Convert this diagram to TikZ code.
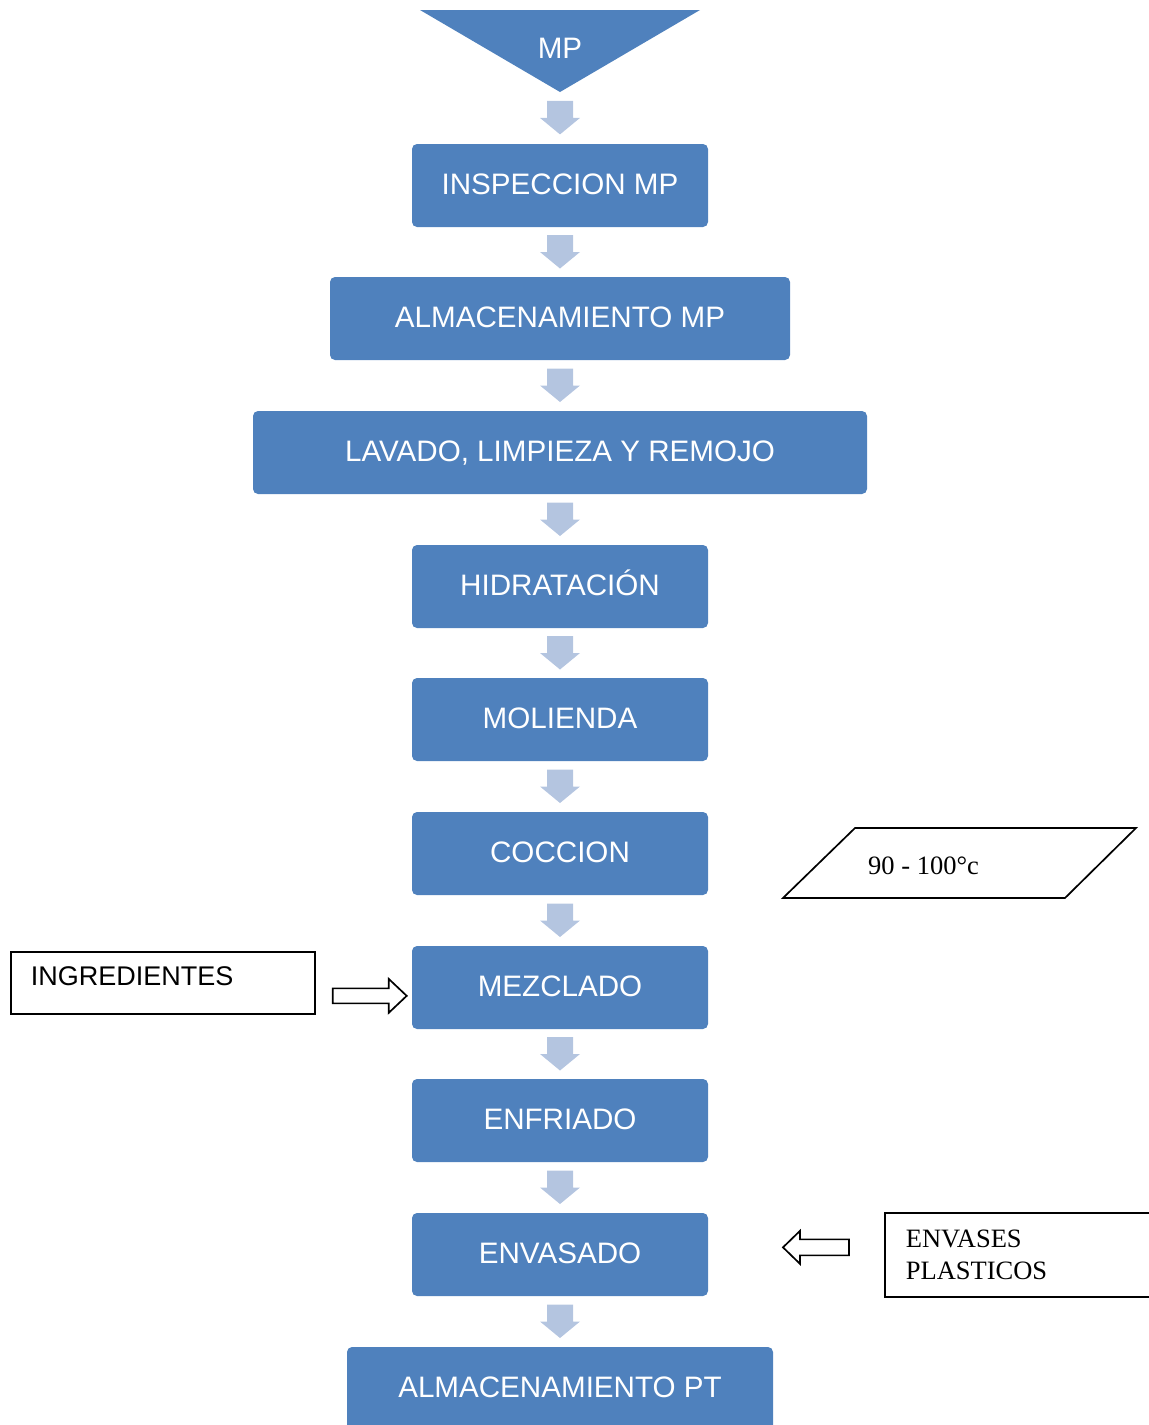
\documentclass[tikz,border=0pt]{standalone}
\usepackage{fontspec}
\setmainfont{Liberation Serif}
\setsansfont{Liberation Sans}
\usetikzlibrary{calc}

\definecolor{azulcaja}{RGB}{79,129,189}
\definecolor{azulflecha}{RGB}{180,197,224}

%% block arrow between two anchors
\newcommand{\bajada}[2]{%
  \fill[azulflecha] ($(#1)!0.5!(#2)$) +(-13,-17) -- +(13,-17) -- +(13,0) -- +(20,0) -- +(0,16.5) -- +(-20,0) -- +(-13,0) -- cycle;}

\begin{document}
\begin{tikzpicture}[x=1pt,y=-1pt,
    paso/.style={fill=azulcaja,rounded corners=5pt,text=white,font=\sffamily\fontsize{29.6}{35}\selectfont,minimum height=83pt,inner sep=0pt,text height=22pt,text depth=5pt},
    marco/.style={draw,line width=1.7pt,inner sep=0pt},
    hueca/.style={draw,line width=1.7pt,fill=white,line join=miter}]
    \useasboundingbox (0,0) rectangle (1149,1425);
    \clip (0,0) rectangle (1149,1425);
    %% Entry triangle
    \fill[azulcaja] (420,10) -- (700,10) -- (560,92) -- cycle;
    \node[text=white,font=\sffamily\fontsize{29.6}{35}\selectfont] (mp) at (560,48) {MP};
    \coordinate (vertice) at (560,92);
    %% Process steps
    \node[paso,minimum width=296pt] (inspeccion) at (560,185.5) {INSPECCION MP};
    \node[paso,minimum width=460pt] (almacenmp) at (560,318.5) {ALMACENAMIENTO MP};
    \node[paso,minimum width=614pt] (lavado) at (560,452.5) {LAVADO, LIMPIEZA Y REMOJO};
    \node[paso,minimum width=296pt] (hidratacion) at (560,586.5) {HIDRATACIÓN};
    \node[paso,minimum width=296pt] (molienda) at (560,719.5) {MOLIENDA};
    \node[paso,minimum width=296pt] (coccion) at (560,853.5) {COCCION};
    \node[paso,minimum width=296pt] (mezclado) at (560,987.5) {MEZCLADO};
    \node[paso,minimum width=296pt] (enfriado) at (560,1120.5) {ENFRIADO};
    \node[paso,minimum width=296pt] (envasado) at (560,1254.5) {ENVASADO};
    \node[paso,minimum width=426pt] (almacenpt) at (560,1388.5) {ALMACENAMIENTO PT};
    %% Arrows between steps
    \bajada{vertice}{inspeccion.north}
    \bajada{inspeccion.south}{almacenmp.north}
    \bajada{almacenmp.south}{lavado.north}
    \bajada{lavado.south}{hidratacion.north}
    \bajada{hidratacion.south}{molienda.north}
    \bajada{molienda.south}{coccion.north}
    \bajada{coccion.south}{mezclado.north}
    \bajada{mezclado.south}{enfriado.north}
    \bajada{enfriado.south}{envasado.north}
    \bajada{envasado.south}{almacenpt.north}
    %% Temperature
    \draw[line width=1.7pt] (783,898) -- (855,828) -- (1136,828) -- (1065,898) -- cycle;
    \node[anchor=west,inner sep=0pt,font=\fontsize{26.5}{32}\selectfont] (temperatura) at (868,866) {90 - 100°c};
    %% Ingredients
    \node[marco,anchor=north west,minimum width=304pt,minimum height=62pt,text width=264pt,align=left,text depth=13pt,font=\sffamily\fontsize{27}{32}\selectfont] (ingredientes) at (10,951) {INGREDIENTES};
    \draw[hueca] ($(ingredientes.east)+(17,5.5)$) -- ++(56,0) -- ++(0,-9.5) -- ++(18,17) -- ++(-18,17) -- ++(0,-9.5) -- ++(-56,0) -- cycle;
    %% Containers
    \node[marco,anchor=north west,minimum width=290pt,minimum height=84pt,text width=248pt,align=left,font=\fontsize{26.5}{32}\selectfont] (envases) at (884,1212) {ENVASES\\PLASTICOS};
    \draw[hueca] ($(envases.west)+(-35,-15.5)$) -- ++(-49,0) -- ++(0,-8.5) -- ++(-17,16.5) -- ++(17,16.5) -- ++(0,-8.5) -- ++(49,0) -- cycle;
\end{tikzpicture}
\end{document}
